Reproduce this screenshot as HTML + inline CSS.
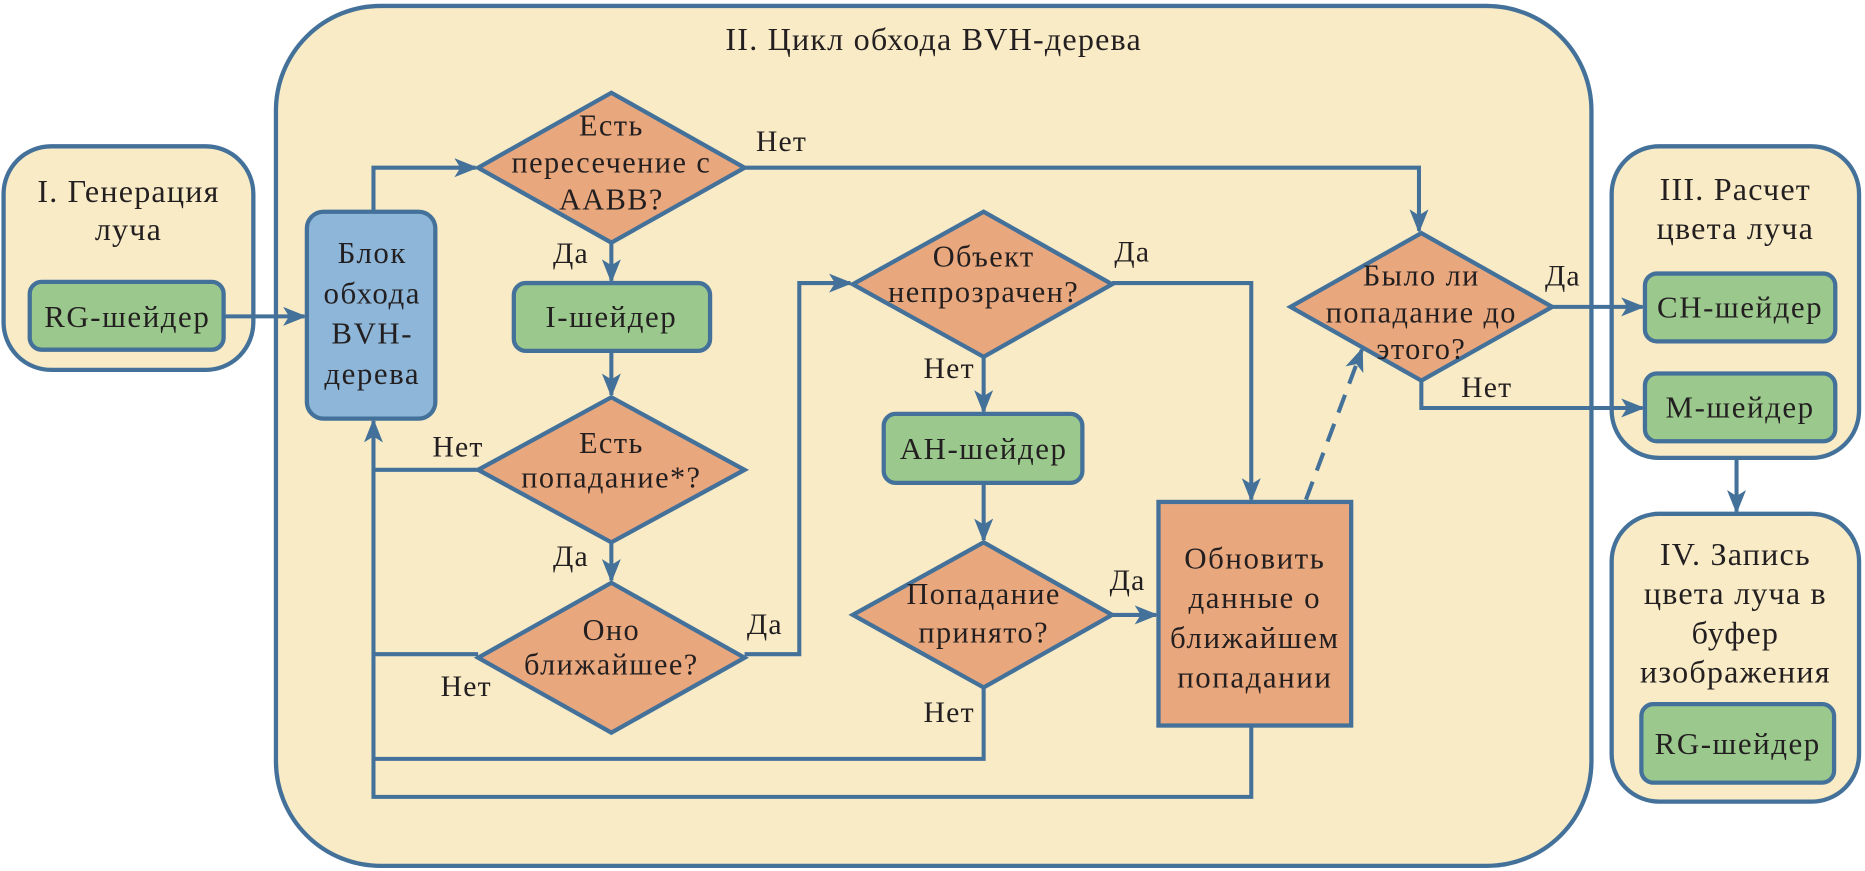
<!DOCTYPE html>
<html><head><meta charset="utf-8"><style>
html,body{margin:0;padding:0;background:#fff}
svg{display:block}
text{font-family:"Liberation Serif",serif;fill:#231f20;text-anchor:middle}
.s{font-family:"Liberation Sans",sans-serif;font-size:25px;letter-spacing:1px}
.t{font-size:27px;letter-spacing:1px}
.n{font-size:26px;letter-spacing:1.3px}
.d{font-size:25.5px;letter-spacing:1.2px}
</style></head><body>
<svg width="1865" height="871" viewBox="0 0 1568 732.3" preserveAspectRatio="none" xmlns="http://www.w3.org/2000/svg">
<defs>
<marker id="b" markerWidth="20" markerHeight="16" refX="18" refY="8" orient="auto" markerUnits="userSpaceOnUse"><path d="M0,0 L20,8 L0,16 L5,8z" fill="#44719a"/></marker></defs>
<g stroke="#44719a" stroke-width="3.6" fill="#f8ebc6">
<rect x="3" y="123" width="210" height="188" rx="40"/>
<rect x="232" y="5" width="1106" height="723" rx="88"/>
<rect x="1355" y="123" width="208" height="262" rx="40"/>
<rect x="1355" y="432" width="208" height="242" rx="40"/>
</g>
<g stroke="#44719a" stroke-width="3.4" fill="none">
<path d="M188,266 H256" marker-end="url(#b)"/>
<path d="M314,178 V141 H400" marker-end="url(#b)"/>
<path d="M626,141 H1193 V194" marker-end="url(#b)"/>
<path d="M514,204 V236" marker-end="url(#b)"/>
<path d="M514,295 V332" marker-end="url(#b)"/>
<path d="M402,395 H314"/>
<path d="M514,456 V488" marker-end="url(#b)"/>
<path d="M402,550 H314"/>
<path d="M626,550 H672 V238 H715" marker-end="url(#b)"/>
<path d="M827,300 V346" marker-end="url(#b)"/>
<path d="M935,238 H1052 V420" marker-end="url(#b)"/>
<path d="M827,406 V454" marker-end="url(#b)"/>
<path d="M935,517 H972" marker-end="url(#b)"/>
<path d="M827,578 V638 H314"/>
<path d="M1052,610 V670 H314 V354" marker-end="url(#b)"/>
<path d="M1098,420 L1145,294" stroke-dasharray="16,10" marker-end="url(#b)"/>
<path d="M1305,258 H1381" marker-end="url(#b)"/>
<path d="M1195,320 V343 H1381" marker-end="url(#b)"/>
<path d="M1460,385 V430" marker-end="url(#b)"/>
</g>
<g stroke="#44719a" stroke-width="3.6">
<rect x="25" y="237" width="163" height="57" rx="10" fill="#9bc98d"/>
<rect x="258" y="178" width="108" height="174" rx="14" fill="#8db6d9"/>
<rect x="432" y="238" width="165" height="57" rx="10" fill="#9bc98d"/>
<rect x="743" y="348" width="167" height="58" rx="10" fill="#9bc98d"/>
<rect x="1383" y="230" width="160" height="57" rx="10" fill="#9bc98d"/>
<rect x="1383" y="314" width="160" height="57" rx="10" fill="#9bc98d"/>
<rect x="1380" y="592" width="162" height="66" rx="10" fill="#9bc98d"/>
<rect x="974" y="422" width="162" height="188" fill="#e8a77d"/>
<g fill="#e8a77d">
<polygon points="402,141 514,78 626,141 514,204"/>
<polygon points="402,395 514,334 626,395 514,456"/>
<polygon points="402,553 514,490 626,553 514,616"/>
<polygon points="717,239 827,178 935,239 827,300"/>
<polygon points="717,517 827,456 935,517 827,578"/>
<polygon points="1085,258 1195,196 1305,258 1195,320"/>
</g></g>
<g class="t">
<text x="785" y="42">II. Цикл обхода BVH-дерева</text>
<text x="108" y="170">I. Генерация</text><text x="108" y="202">луча</text>
<text x="1459" y="168">III. Расчет</text><text x="1459" y="201">цвета луча</text>
<text x="1459" y="475">IV. Запись</text><text x="1459" y="508">цвета луча в</text><text x="1459" y="541">буфер</text><text x="1459" y="574">изображения</text>
</g>
<g class="n">
<text x="107" y="275">RG-шейдер</text>
<text x="313" y="221">Блок</text><text x="313" y="255">обхода</text><text x="313" y="289">BVH-</text><text x="313" y="323">дерева</text>
<text x="514" y="275">I-шейдер</text>
<text x="827" y="386">AH-шейдер</text>
<text x="1463" y="267">CH-шейдер</text>
<text x="1463" y="351">M-шейдер</text>
<text x="1461" y="634">RG-шейдер</text>
<text x="1055" y="478">Обновить</text><text x="1055" y="511">данные о</text><text x="1055" y="545">ближайшем</text><text x="1055" y="578">попадании</text>
</g>
<g class="d">
<text x="514" y="114">Есть</text><text x="514" y="145">пересечение с</text><text x="514" y="176">AABB?</text>
<text x="514" y="381">Есть</text><text x="514" y="410">попадание*?</text>
<text x="514" y="538">Оно</text><text x="514" y="567">ближайшее?</text>
<text x="827" y="224">Объект</text><text x="827" y="254">непрозрачен?</text>
<text x="827" y="508">Попадание</text><text x="827" y="540">принято?</text>
<text x="1195" y="240">Было ли</text><text x="1195" y="271">попадание до</text><text x="1195" y="302">этого?</text>
</g>
<g class="s">
<text x="657" y="127">Нет</text>
<text x="480" y="221">Да</text>
<text x="385" y="384">Нет</text>
<text x="480" y="476">Да</text>
<text x="392" y="585">Нет</text>
<text x="643" y="533">Да</text>
<text x="798" y="318">Нет</text>
<text x="952" y="220">Да</text>
<text x="948" y="496">Да</text>
<text x="798" y="607">Нет</text>
<text x="1314" y="240">Да</text>
<text x="1250" y="334">Нет</text>
</g>
</svg>
</body></html>
